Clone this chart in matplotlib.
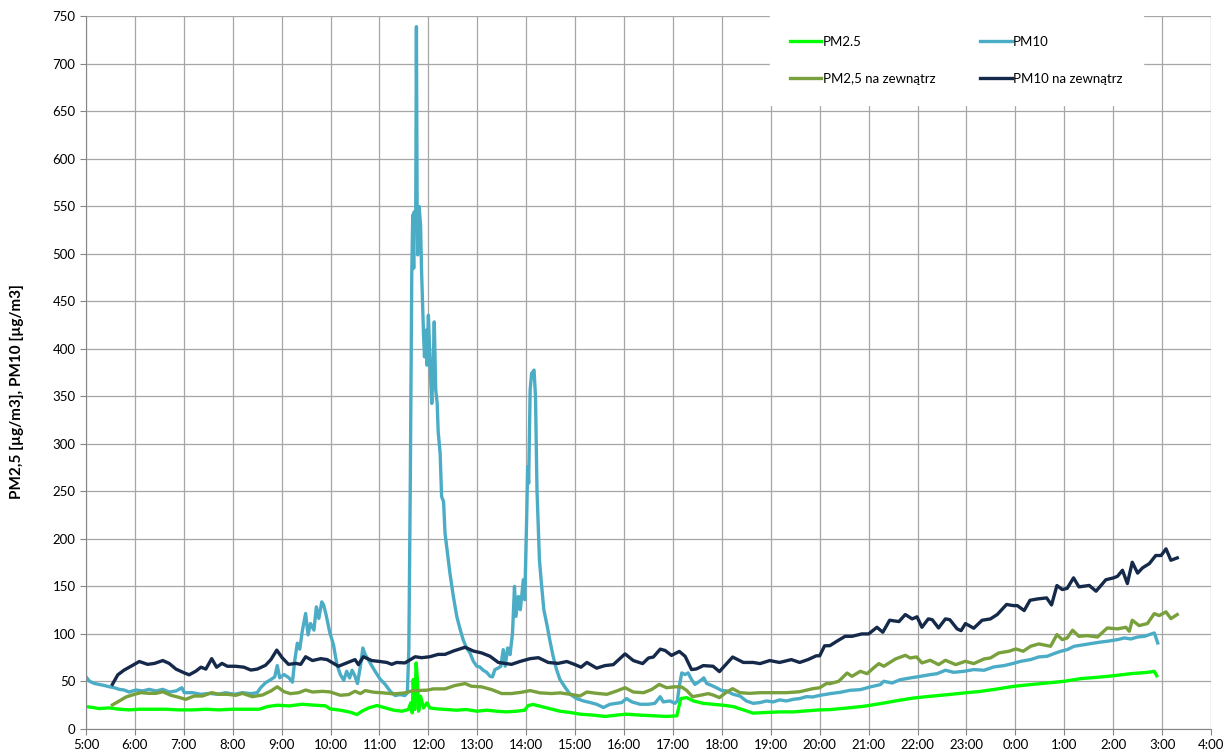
import matplotlib
matplotlib.use("Agg")
import matplotlib.pyplot as plt

plt.rcParams['font.family'] = ['Lato', 'DejaVu Sans']

# czas w godzinach od 5:00 (24+ = po północy)
pm25_t = [5.0, 5.14, 5.27, 5.48, 5.68, 5.88, 6.09, 6.36, 6.63, 6.90, 7.18, 7.45, 7.72,
          7.99, 8.27, 8.54, 8.71, 8.91, 9.15, 9.42, 9.69, 9.90, 9.99, 10.20, 10.40,
          10.54, 10.64, 10.78, 10.95, 11.12, 11.29, 11.46, 11.59, 11.64, 11.67, 11.69,
          11.72, 11.75, 11.78, 11.80, 11.84, 11.90, 11.97, 12.03, 12.17, 12.37, 12.58,
          12.78, 12.99, 13.19, 13.40, 13.60, 13.80, 13.97, 14.04, 14.14, 14.28, 14.42,
          14.55, 14.69, 14.90, 15.10, 15.37, 15.61, 15.85, 16.05, 16.33, 16.60, 16.87,
          17.08, 17.11, 17.16, 17.28, 17.42, 17.62, 17.82, 18.03, 18.23, 18.44, 18.64,
          18.91, 19.18, 19.46, 19.73, 20.0, 20.21, 20.56, 20.90, 21.24, 21.58, 21.92,
          22.26, 22.61, 22.95, 23.29, 23.63, 23.97, 24.31, 24.65, 25.0, 25.34, 25.68,
          26.02, 26.36, 26.70, 26.84, 26.89]
pm25 = [23.6, 22.6, 21.5, 22.2, 20.8, 20.1, 20.8, 20.8, 20.8, 20.1, 20.1, 20.8, 20.1,
        20.8, 20.8, 20.8, 23.6, 25.0, 24.3, 26.0, 25.0, 24.3, 21.2, 19.8, 17.7,
        15.2, 18.7, 22.2, 24.7, 22.2, 19.8, 18.7, 20.5, 27.5, 17.0, 52.0,
        20.5, 69.5, 48.5, 18.7, 34.5, 22.2, 27.5, 22.2, 21.2, 20.5, 19.8,
        20.5, 18.7, 19.8, 18.7, 18.0, 18.7, 19.8, 24.7, 25.8, 24.0, 22.2,
        20.5, 18.7, 17.4, 15.6, 14.6, 13.2, 14.6, 15.6, 14.6, 13.9, 13.2,
        13.9, 20.8, 32.0, 33.0, 29.5, 27.0, 26.0, 25.0, 23.6, 20.1, 16.7,
        17.4, 18.0, 18.0, 19.1, 20.1, 20.4, 22.1, 23.9, 26.7, 29.8, 32.6,
        34.4, 36.1, 37.9, 39.6, 42.1, 44.9, 46.7, 48.4, 50.2, 53.0, 54.4,
        56.1, 58.2, 59.6, 60.7, 56.1]

pm10_t = [5.0, 5.07, 5.17, 5.27, 5.37, 5.48, 5.58, 5.68, 5.78, 5.88, 6.02, 6.16, 6.29,
          6.43, 6.57, 6.70, 6.84, 6.96, 7.01, 7.18, 7.35, 7.52, 7.69, 7.86, 8.03, 8.20,
          8.37, 8.50, 8.57, 8.67, 8.78, 8.86, 8.91, 8.96, 9.05, 9.15, 9.22, 9.27, 9.32,
          9.37, 9.42, 9.49, 9.54, 9.59, 9.66, 9.71, 9.76, 9.82, 9.86, 9.91, 9.98, 10.06,
          10.13, 10.20, 10.27, 10.33, 10.39, 10.44, 10.50, 10.55, 10.61, 10.66, 10.71,
          10.81, 10.91, 11.01, 11.12, 11.22, 11.32, 11.42, 11.52, 11.57, 11.60, 11.63,
          11.65, 11.66, 11.68, 11.70, 11.71, 11.74, 11.755, 11.77, 11.78, 11.81, 11.84,
          11.86, 11.90, 11.92, 11.95, 11.97, 12.0, 12.03, 12.05, 12.07, 12.10, 12.12,
          12.15, 12.18, 12.20, 12.24, 12.27, 12.31, 12.34, 12.39, 12.44, 12.51, 12.58,
          12.65, 12.71, 12.78, 12.85, 12.92, 12.99, 13.05, 13.12, 13.19, 13.26, 13.31,
          13.36, 13.43, 13.48, 13.53, 13.57, 13.62, 13.67, 13.72, 13.76, 13.79, 13.84,
          13.88, 13.94, 13.97, 14.01, 14.03, 14.05, 14.08, 14.11, 14.16, 14.19, 14.22,
          14.27, 14.31, 14.36, 14.43, 14.48, 14.55, 14.62, 14.69, 14.80, 14.90, 15.03,
          15.17, 15.31, 15.44, 15.58, 15.71, 15.85, 15.95, 16.05, 16.16, 16.33, 16.50,
          16.63, 16.74, 16.80, 16.94, 17.04, 17.09, 17.13, 17.18, 17.25, 17.31, 17.38,
          17.45, 17.52, 17.59, 17.63, 17.69, 17.79, 17.89, 17.99, 18.10, 18.23, 18.37,
          18.50, 18.64, 18.78, 18.91, 19.05, 19.18, 19.32, 19.46, 19.59, 19.73, 19.86,
          20.0, 20.14, 20.21, 20.42, 20.62, 20.83, 21.03, 21.24, 21.31, 21.48, 21.65,
          21.85, 22.06, 22.26, 22.40, 22.57, 22.74, 22.95, 23.15, 23.36, 23.56, 23.77,
          23.94, 24.11, 24.31, 24.48, 24.65, 24.79, 24.93, 25.06, 25.20, 25.41, 25.54,
          25.71, 25.88, 26.09, 26.23, 26.36, 26.50, 26.64, 26.74, 26.84, 26.87, 26.91]
pm10 = [54.9, 50.3, 47.9, 46.9, 45.8, 44.4, 43.4, 41.7, 41.0, 38.9, 41.0, 40.0, 41.7,
        40.0, 41.7, 38.9, 40.0, 43.4, 38.2, 38.2, 36.5, 37.5, 36.5, 38.2, 36.5, 38.2,
        37.2, 38.2, 43.4, 48.6, 52.0, 54.9, 66.7, 53.8, 57.3, 53.8, 49.3, 72.9, 90.3,
        84.0, 102.4, 121.5, 99.0, 111.0, 104.0, 128.5, 116.3, 133.7, 130.2, 119.8, 102.4, 88.5,
        67.7, 57.2, 51.3, 60.7, 53.7, 61.8, 55.5, 47.8, 66.0, 85.2, 78.2,
        69.5, 60.7, 52.7, 46.7, 39.7, 35.2, 36.2, 35.2, 38.0, 83.5, 258.5,
        398.5, 477.7, 540.7, 484.7, 544.0, 526.7, 738.8, 547.8, 498.7, 549.5, 530.2,
        482.5, 416.0, 391.5, 419.5, 382.7, 435.2, 391.5, 363.5, 342.5, 388.0, 428.2,
        356.5, 342.5, 312.7, 290.0, 244.5, 239.2, 206.0, 185.0, 164.0, 139.5, 118.5,
        104.5, 94.0, 85.2, 80.0, 71.2, 66.0, 65.3, 61.8, 59.7, 55.5, 54.8,
        62.5, 64.2, 66.0, 83.5, 66.0, 85.2, 78.2, 101.0, 150.0, 118.5, 139.5,
        125.5, 157.0, 136.0, 223.5, 276.0, 258.5, 356.5, 374.0, 377.5, 349.5, 251.5,
        178.0, 153.5, 125.5, 108.0, 94.0, 76.5, 62.5, 52.0, 43.4, 36.5, 32.0,
        29.5, 27.8, 26.0, 22.6, 26.0, 27.0, 27.8, 32.0, 28.5, 26.0, 26.0,
        27.0, 34.0, 28.5, 29.5, 27.0, 29.5, 45.1, 59.0, 57.3, 59.0, 52.0,
        46.9, 49.3, 52.0, 53.8, 47.9, 45.8, 43.4, 40.6, 40.0, 36.5, 34.7,
        29.5, 27.0, 27.8, 29.5, 28.5, 30.6, 29.5, 31.2, 32.0, 34.0, 33.7,
        35.4, 36.5, 37.2, 38.6, 40.7, 41.4, 44.2, 46.7, 50.2, 48.4, 51.9,
        53.7, 55.4, 57.2, 58.2, 61.8, 59.6, 60.7, 62.5, 61.8, 65.3, 66.7,
        68.8, 71.2, 73.0, 75.8, 76.5, 79.3, 81.8, 83.5, 87.0, 88.8, 89.8,
        91.2, 92.3, 94.0, 95.8, 94.7, 96.8, 97.5, 99.3, 101.0, 96.8, 90.5]

pm25_out_t = [5.54, 5.68, 5.82, 5.99, 6.12, 6.29, 6.43, 6.57, 6.74, 6.87, 7.04, 7.21, 7.38,
              7.57, 7.72, 7.89, 8.06, 8.20, 8.40, 8.61, 8.78, 8.91, 9.05, 9.18, 9.35, 9.49,
              9.63, 9.83, 9.99, 10.20, 10.37, 10.50, 10.61, 10.71, 10.88, 11.08, 11.29,
              11.52, 11.69, 11.97, 12.10, 12.34, 12.54, 12.75, 12.88, 13.09, 13.29, 13.50,
              13.70, 13.91, 14.08, 14.28, 14.52, 14.69, 14.90, 15.10, 15.24, 15.44, 15.65,
              15.85, 16.02, 16.19, 16.40, 16.57, 16.72, 16.87, 17.04, 17.18, 17.28, 17.40,
              17.55, 17.72, 17.82, 17.95, 18.08, 18.22, 18.37, 18.57, 18.78, 19.05, 19.32,
              19.59, 19.86, 20.0, 20.14, 20.21, 20.39, 20.56, 20.66, 20.83, 20.97, 21.10,
              21.21, 21.31, 21.55, 21.75, 21.85, 21.98, 22.09, 22.26, 22.43, 22.57, 22.78,
              22.98, 23.15, 23.36, 23.49, 23.66, 23.87, 24.01, 24.16, 24.31, 24.48, 24.72,
              24.85, 24.96, 25.06, 25.17, 25.30, 25.47, 25.68, 25.88, 26.09, 26.26, 26.33,
              26.39, 26.53, 26.70, 26.84, 26.94, 27.08, 27.18, 27.31]
pm25_out = [25.3, 29.5, 33.7, 36.5, 38.2, 37.5, 37.5, 39.2, 35.4, 33.7, 31.2, 34.7, 34.7,
            38.2, 36.5, 36.5, 35.4, 37.5, 34.0, 35.8, 40.0, 44.4, 39.2, 37.2, 38.2, 41.0,
            38.9, 39.6, 39.0, 35.5, 36.2, 39.7, 37.3, 40.4, 38.7, 38.0, 36.9,
            38.0, 40.4, 40.8, 42.2, 42.2, 45.7, 47.8, 45.0, 44.3, 41.5, 37.3,
            37.3, 38.7, 40.4, 38.0, 37.3, 38.0, 36.5, 34.7, 38.9, 37.5, 36.5,
            40.0, 43.4, 38.9, 38.2, 41.7, 46.9, 43.4, 44.4, 44.1, 40.6, 34.0,
            35.4, 37.2, 35.8, 33.0, 38.2, 42.4, 38.2, 37.5, 38.2, 38.2, 38.2,
            39.2, 42.4, 43.4, 47.9, 47.7, 50.2, 58.9, 55.4, 60.7, 58.2, 64.2,
            68.8, 66.0, 73.7, 77.5, 74.7, 75.8, 69.5, 72.3, 67.7, 72.3, 67.7,
            71.2, 68.8, 73.7, 74.7, 80.0, 81.8, 84.2, 81.8, 87.0, 89.5, 87.0,
            99.3, 94.0, 95.8, 103.9, 97.5, 98.2, 96.8, 106.3, 105.3, 107.0, 102.8,
            114.4, 108.8, 110.9, 121.4, 119.3, 123.2, 116.1, 120.4]

pm10_out_t = [5.54, 5.65, 5.78, 5.92, 6.09, 6.26, 6.40, 6.57, 6.70, 6.84, 7.01, 7.11, 7.25,
              7.35, 7.45, 7.57, 7.67, 7.78, 7.89, 8.06, 8.23, 8.37, 8.50, 8.67, 8.78, 8.90,
              9.01, 9.14, 9.29, 9.39, 9.49, 9.63, 9.80, 9.93, 10.16, 10.33, 10.50, 10.57,
              10.67, 10.84, 11.01, 11.15, 11.25, 11.35, 11.52, 11.73, 11.86, 12.03, 12.20,
              12.34, 12.51, 12.75, 12.92, 13.09, 13.26, 13.43, 13.70, 13.87, 14.08, 14.25,
              14.45, 14.65, 14.83, 15.0, 15.12, 15.24, 15.44, 15.61, 15.78, 16.02, 16.19,
              16.38, 16.50, 16.60, 16.74, 16.84, 16.97, 17.13, 17.25, 17.38, 17.48, 17.62,
              17.82, 17.95, 18.06, 18.22, 18.44, 18.64, 18.78, 18.98, 19.18, 19.42, 19.59,
              19.76, 19.93, 20.0, 20.10, 20.21, 20.35, 20.52, 20.66, 20.86, 21.0, 21.17,
              21.29, 21.43, 21.62, 21.75, 21.89, 21.99, 22.09, 22.22, 22.30, 22.43, 22.57,
              22.66, 22.81, 22.89, 22.98, 23.15, 23.32, 23.49, 23.63, 23.82, 23.96, 24.04,
              24.18, 24.30, 24.45, 24.64, 24.74, 24.85, 24.96, 25.06, 25.19, 25.30, 25.51,
              25.65, 25.75, 25.85, 26.01, 26.09, 26.19, 26.29, 26.39, 26.50, 26.60, 26.74,
              26.87, 26.98, 27.08, 27.18, 27.31]
pm10_out = [47, 57, 62, 66, 71, 68, 69, 72, 69, 63, 59, 57, 61,
            65, 63, 74, 65, 69, 66, 66, 65, 62, 63, 67, 73, 83,
            75, 68, 69, 68, 76, 72, 74, 73, 66, 69.5, 73, 67.7,
            76, 72, 71, 70, 68, 70, 69.5, 76, 75, 76, 78.5,
            78.5, 82, 86, 82, 80, 76.5, 70, 68, 71, 74, 75,
            70, 69, 71, 67.7, 65, 70, 64, 66.7, 67.7, 79, 72,
            68.8, 74.7, 75.7, 84, 82.6, 77.4, 81.6, 76.4, 62.5, 63.2, 66.7,
            66, 60.4, 66.7, 75.7, 70, 70, 68.8, 72, 70, 73, 70,
            73, 77, 77, 87.5, 87.7, 92.3, 97.5, 97.5, 100, 100, 107,
            101.8, 114.4, 113, 120.4, 115.8, 118, 107, 115.8, 115, 106.3, 115.8,
            115, 105.3, 103.5, 110.9, 106, 114.4, 115.8, 120.4, 131, 129.8, 129.8,
            124.6, 135.4, 136.8, 137.9, 130.5, 150.9, 146.7, 148, 159, 149.5, 151,
            145, 150.9, 157, 159, 160.7, 167, 153, 175.4, 164, 169.5, 174,
            182.5, 182.5, 189.5, 177.5, 180]

hours = list(range(5, 29))
hour_labels = [f"{h % 24}:00" for h in hours]

fig = plt.figure(figsize=(12.25, 7.56), dpi=100)
ax = fig.add_axes([86 / 1225, 27 / 756, 1125 / 1225, 713 / 756])

l1, = ax.plot(pm25_t, pm25, color="#00ff00", lw=2.4, label="PM2.5")
l2, = ax.plot(pm10_t, pm10, color="#4bacc6", lw=2.4, label="PM10")
l3, = ax.plot(pm25_out_t, pm25_out, color="#78a03c", lw=2.4, label="PM2,5 na zewnątrz")
l4, = ax.plot(pm10_out_t, pm10_out, color="#15294a", lw=2.4, label="PM10 na zewnątrz")

ax.set_xlim(5, 28)
ax.set_ylim(0, 750)
ax.set_xticks(hours)
ax.set_xticklabels(hour_labels)
ax.set_yticks(range(0, 751, 50))
ax.grid(True, color="#a6a6a6", lw=0.9)
ax.set_axisbelow(True)
for side in ["top", "right"]:
    ax.spines[side].set_visible(False)
for side in ["left", "bottom"]:
    ax.spines[side].set_color("#868686")
ax.tick_params(colors="#868686", labelcolor="black", labelsize=9.5, length=4)

ax.set_ylabel("PM2,5 [µg/m3], PM10 [µg/m3]", fontsize=11, fontweight="bold")
ax.yaxis.set_label_coords(-0.055, 0.473)

# kolejność wierszami: PM2.5, PM10 / na zewnątrz
leg = ax.legend([l1, l3, l2, l4], [l1.get_label(), l3.get_label(), l2.get_label(), l4.get_label()],
                loc="upper left", bbox_to_anchor=(0.608, 1.0), ncol=2, fontsize=9.5,
                frameon=True, fancybox=False, framealpha=1, edgecolor="white",
                handlelength=2.4, handletextpad=0.1, labelspacing=1.9, columnspacing=3.4,
                borderpad=1.5, borderaxespad=0)

fig.savefig("out.png", dpi=100)
